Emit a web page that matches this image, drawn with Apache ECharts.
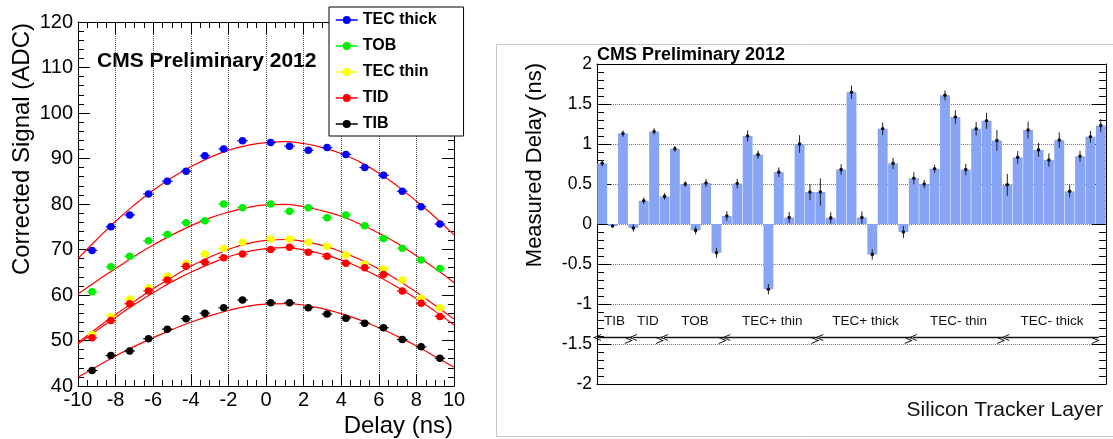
<!DOCTYPE html>
<html>
<head>
<meta charset="utf-8">
<title>CMS Preliminary 2012 - timing scan</title>
<script src="https://cdn.jsdelivr.net/npm/echarts@6/dist/echarts.min.js"></script>
<style>
html, body { margin: 0; padding: 0; background: #ffffff; }
#main { width: 1113px; height: 439px; }
</style>
</head>
<body>
<div id="main"></div>
<script>
// ---- left panel : corrected signal vs delay ----
var delayPts = [-9.25, -8.25, -7.25, -6.25, -5.25, -4.25, -3.25, -2.25, -1.25, 0.25, 1.25, 2.25, 3.25, 4.25, 5.25, 6.25, 7.25, 8.25, 9.25];
var tecThick = [69.8, 75.0, 77.6, 82.2, 85.0, 87.2, 90.6, 92.1, 93.9, 93.5, 92.7, 91.8, 92.4, 90.9, 88.0, 86.3, 82.8, 79.4, 75.6];
var tob      = [60.7, 66.2, 68.5, 71.9, 73.3, 75.9, 76.3, 80.0, 79.2, 80.0, 78.4, 79.2, 77.0, 77.6, 75.2, 72.4, 70.3, 67.7, 65.8];
var tecThin  = [51.3, 55.3, 59.1, 61.6, 64.1, 66.9, 69.0, 70.2, 71.6, 72.3, 72.3, 71.6, 70.7, 68.8, 66.8, 65.7, 63.3, 59.3, 57.2];
var tid      = [50.6, 54.4, 58.1, 60.9, 63.3, 66.3, 67.2, 68.2, 69.0, 70.0, 70.5, 69.4, 68.5, 67.0, 66.0, 64.5, 60.9, 58.2, 55.3];
var tib      = [43.4, 46.7, 47.7, 50.4, 52.5, 54.8, 56.0, 57.2, 58.9, 58.3, 58.3, 57.2, 55.8, 54.9, 53.8, 52.8, 50.2, 48.6, 46.1];
var delayErr = 0.28;

// fitted curves, every ns
var fitDelay    = [-10, -9, -8, -7, -6, -5, -4, -3, -2, -1, 0, 1, 2, 3, 4, 5, 6, 7, 8, 9, 10];
var tecThickFit = [68.0, 72.2, 76.2, 79.8, 83.0, 85.8, 88.2, 90.2, 91.8, 92.9, 93.5, 93.7, 93.3, 92.4, 91.1, 89.2, 86.8, 83.9, 80.6, 77.1, 73.2];
var tobFit      = [60.2, 63.1, 65.8, 68.5, 71.0, 73.2, 75.2, 76.9, 78.2, 79.2, 79.8, 79.9, 79.4, 78.5, 77.3, 75.6, 73.6, 71.3, 68.6, 65.8, 62.7];
var tecThinFit  = [49.5, 52.7, 55.7, 58.6, 61.4, 63.9, 66.3, 68.3, 70.0, 71.3, 72.0, 72.2, 71.8, 70.9, 69.5, 67.8, 65.7, 63.3, 60.6, 57.7, 54.7];
var tidFit      = [49.2, 52.2, 55.1, 57.9, 60.5, 62.9, 65.0, 66.8, 68.4, 69.5, 70.2, 70.4, 69.9, 69.0, 67.7, 66.0, 64.0, 61.7, 59.2, 56.4, 53.4];
var tibFit      = [41.9, 44.3, 46.6, 48.7, 50.6, 52.4, 54.0, 55.4, 56.6, 57.5, 58.0, 58.1, 57.8, 57.0, 55.9, 54.5, 52.8, 50.9, 48.8, 46.5, 44.1];

var seriesNames  = ['TEC thick', 'TOB', 'TEC thin', 'TID', 'TIB'];
var seriesColors = ['#0000ff', '#00ee00', '#ffff00', '#ff0000', '#000000'];

// ---- right panel : measured delay per layer ----
var groupNames = ['TIB', 'TID', 'TOB', 'TEC+ thin', 'TEC+ thick', 'TEC- thin', 'TEC- thick'];
var groupSizes = [4, 3, 6, 9, 9, 9, 9];
var groupArrowStart = [0, 3.45, 6.45, 12.45, 21.4, 30.4, 39.3];
var groupArrowEnd   = [3.35, 6.35, 12.4, 21.3, 30.3, 39.2, 48.3];
var arrowLevel = -1.42;

var layerDelay = [0.76, -0.025, 1.13, -0.05, 0.29, 1.157, 0.345, 0.94, 0.50, -0.08,
	0.513, -0.36, 0.10, 0.505, 1.10, 0.867, -0.815, 0.648, 0.08, 1.0,
	0.40, 0.40, 0.076, 0.68, 1.646, 0.08, -0.38, 1.19, 0.758, -0.10,
	0.572, 0.50, 0.69, 1.608, 1.338, 0.68, 1.19, 1.29, 1.044, 0.49,
	0.833, 1.174, 0.926, 0.80, 1.048, 0.408, 0.846, 1.09, 1.23];
var layerErr = [0.04, 0.02, 0.04, 0.045, 0.04, 0.04, 0.04, 0.035, 0.035, 0.05,
	0.05, 0.063, 0.06, 0.06, 0.07, 0.05, 0.065, 0.06, 0.07, 0.11,
	0.1, 0.17, 0.07, 0.067, 0.084, 0.078, 0.065, 0.08, 0.07, 0.075,
	0.075, 0.05, 0.05, 0.063, 0.084, 0.07, 0.084, 0.1, 0.13, 0.137,
	0.08, 0.105, 0.088, 0.084, 0.097, 0.076, 0.067, 0.074, 0.084];

var FONT = '"Liberation Sans", Arial, Helvetica, sans-serif';

var layerNames = [];
for(var g = 0; g < groupNames.length; g++) {
	for(var k = 1; k <= groupSizes[g]; k++) {
		layerNames.push(groupNames[g] + ' ' + k);
	}
}

function zip(xs, ys) {
	var out = [];
	for(var i = 0; i < xs.length; i++) out.push([xs[i], ys[i]]);
	return out;
}

var pointSets = [tecThick, tob, tecThin, tid, tib];
var fitSets = [tecThickFit, tobFit, tecThinFit, tidFit, tibFit];

var series = [];
// fits first so the markers sit on top
for(var i = 0; i < fitSets.length; i++) {
	series.push({
		name: seriesNames[i] + ' fit',
		type: 'line',
		xAxisIndex: 0,
		yAxisIndex: 0,
		smooth: true,
		showSymbol: false,
		silent: true,
		z: 2,
		lineStyle: { color: '#ff0000', width: 1.2 },
		data: zip(fitDelay, fitSets[i])
	});
}
// small horizontal error bars under the markers
var hErrData = [];
for(var i = 0; i < pointSets.length; i++) {
	for(var j = 0; j < delayPts.length; j++) {
		hErrData.push([delayPts[j], pointSets[i][j], i]);
	}
}
series.push({
	name: 'delay err',
	type: 'custom',
	xAxisIndex: 0,
	yAxisIndex: 0,
	z: 3,
	silent: true,
	renderItem: function(params, api) {
		var a = api.coord([api.value(0) - delayErr, api.value(1)]);
		var b = api.coord([api.value(0) + delayErr, api.value(1)]);
		return {
			type: 'line',
			shape: { x1: a[0], y1: a[1], x2: b[0], y2: b[1] },
			style: { stroke: seriesColors[api.value(2)], lineWidth: 1.2 }
		};
	},
	data: hErrData
});
for(var i = 0; i < pointSets.length; i++) {
	series.push({
		name: seriesNames[i],
		type: 'line',
		xAxisIndex: 0,
		yAxisIndex: 0,
		symbol: 'circle',
		symbolSize: 7.5,
		showSymbol: true,
		z: 4,
		itemStyle: { color: seriesColors[i] },
		lineStyle: { color: seriesColors[i], width: 0 },
		data: zip(delayPts, pointSets[i])
	});
}

// bars
series.push({
	name: 'Measured Delay',
	type: 'bar',
	xAxisIndex: 2,
	yAxisIndex: 2,
	barCategoryGap: '5%',
	itemStyle: { color: '#87a4f5' },
	data: layerDelay
});

// error bars on the bars
var errData = [];
for(var i = 0; i < layerDelay.length; i++) {
	errData.push([i, layerDelay[i], layerErr[i]]);
}
series.push({
	name: 'err',
	type: 'custom',
	xAxisIndex: 2,
	yAxisIndex: 2,
	z: 5,
	silent: true,
	renderItem: function(params, api) {
		var x = api.value(0);
		var v = api.value(1);
		var e = api.value(2);
		var mid = api.coord([x, v]);
		var hi = api.coord([x, v + e]);
		var lo = api.coord([x, v - e]);
		return {
			type: 'group',
			children: [{
				type: 'line',
				shape: { x1: mid[0], y1: hi[1], x2: mid[0], y2: lo[1] },
				style: { stroke: '#222', lineWidth: 1 }
			}, {
				type: 'circle',
				shape: { cx: mid[0], cy: mid[1], r: 1.8 },
				style: { fill: '#111' }
			}]
		};
	},
	data: errData
});

// detector group arrows
var chevron = 'path://M0,10L5,0L10,10L8.6,10L5,2.8L1.4,10Z';
var arrowData = [];
for(var i = 0; i < groupNames.length; i++) {
	arrowData.push([
		{ name: groupNames[i], coord: [groupArrowStart[i], arrowLevel] },
		{ coord: [groupArrowEnd[i], arrowLevel] }
	]);
}
series.push({
	name: 'groups',
	type: 'line',
	xAxisIndex: 4,
	yAxisIndex: 2,
	data: [],
	silent: true,
	markLine: {
		silent: true,
		animation: false,
		symbol: [chevron, chevron],
		symbolSize: [7, 8],
		symbolOffset: [0, 3],
		lineStyle: { color: '#111', width: 1.3, type: 'solid' },
		label: {
			show: true,
			position: 'middle',
			distance: 9,
			formatter: '{b}',
			fontFamily: FONT,
			fontSize: 13.5,
			color: '#111'
		},
		data: arrowData
	}
});

var tickStyle = { color: '#000', width: 1 };

var option = {
	animation: false,
	backgroundColor: '#ffffff',
	textStyle: { fontFamily: FONT },
	grid: [
		{ left: 78, top: 22, width: 376, height: 364 },
		{ left: 597, top: 64, width: 509, height: 320 }
	],
	legend: {
		data: seriesNames,
		orient: 'vertical',
		left: 329,
		top: 7,
		padding: [5, 27, 4, 6],
		itemGap: 10,
		itemWidth: 22,
		itemHeight: 10,
		backgroundColor: '#ffffff',
		borderColor: '#000',
		borderWidth: 1,
		lineStyle: { width: 1.5 },
		textStyle: { fontFamily: FONT, fontWeight: 'bold', fontSize: 16, color: '#000', lineHeight: 16 }
	},
	xAxis: [{
		gridIndex: 0,
		type: 'value',
		position: 'bottom',
		min: -10,
		max: 10,
		interval: 2,
		axisLine: { onZero: false, lineStyle: tickStyle },
		axisTick: { inside: true, length: 12, lineStyle: tickStyle },
		minorTick: { show: true, splitNumber: 4, length: 6, lineStyle: tickStyle },
		axisLabel: { fontSize: 20, color: '#000', margin: 4, fontFamily: FONT },
		splitLine: { show: true, lineStyle: { color: '#555', type: 'dotted', width: 1 } }
	}, {
		gridIndex: 0,
		type: 'value',
		position: 'top',
		min: -10,
		max: 10,
		interval: 2,
		axisLine: { onZero: false, lineStyle: tickStyle },
		axisTick: { inside: true, length: 12, lineStyle: tickStyle },
		minorTick: { show: true, splitNumber: 4, length: 6, lineStyle: tickStyle },
		axisLabel: { show: false },
		splitLine: { show: false }
	}, {
		gridIndex: 1,
		type: 'category',
		position: 'bottom',
		data: layerNames,
		axisLine: { onZero: false, lineStyle: tickStyle },
		axisTick: { inside: true, length: 5, interval: 0, lineStyle: tickStyle },
		axisLabel: { show: false },
		splitLine: { show: false }
	}, {
		gridIndex: 1,
		type: 'category',
		position: 'top',
		data: layerNames,
		axisLine: { onZero: false, lineStyle: tickStyle },
		axisTick: { inside: true, length: 7, interval: 0, lineStyle: tickStyle },
		axisLabel: { show: false },
		splitLine: { show: false }
	}, {
		gridIndex: 1,
		type: 'value',
		min: 0,
		max: 49,
		show: false
	}],
	yAxis: [{
		gridIndex: 0,
		type: 'value',
		position: 'left',
		min: 40,
		max: 120,
		interval: 10,
		axisLine: { show: true, onZero: false, lineStyle: tickStyle },
		axisTick: { show: true, inside: true, length: 12, lineStyle: tickStyle },
		minorTick: { show: true, splitNumber: 5, length: 6, lineStyle: tickStyle },
		axisLabel: { fontSize: 20, color: '#000', margin: 5, fontFamily: FONT },
		splitLine: { show: false }
	}, {
		gridIndex: 0,
		type: 'value',
		position: 'right',
		min: 40,
		max: 120,
		interval: 10,
		axisLine: { show: true, onZero: false, lineStyle: tickStyle },
		axisTick: { show: true, inside: true, length: 12, lineStyle: tickStyle },
		minorTick: { show: true, splitNumber: 5, length: 6, lineStyle: tickStyle },
		axisLabel: { show: false },
		splitLine: { show: false }
	}, {
		gridIndex: 1,
		type: 'value',
		position: 'left',
		min: -2,
		max: 2,
		interval: 0.5,
		axisLine: { show: true, onZero: false, lineStyle: tickStyle },
		axisTick: { show: true, inside: true, length: 14, lineStyle: tickStyle },
		minorTick: { show: true, splitNumber: 5, length: 7, lineStyle: tickStyle },
		axisLabel: { fontSize: 17.5, color: '#000', margin: 5, fontFamily: FONT },
		splitLine: { show: true, lineStyle: { color: '#777', type: 'dotted', width: 1 } }
	}, {
		gridIndex: 1,
		type: 'value',
		position: 'right',
		min: -2,
		max: 2,
		interval: 0.5,
		axisLine: { show: true, onZero: false, lineStyle: tickStyle },
		axisTick: { show: true, inside: true, length: 14, lineStyle: tickStyle },
		minorTick: { show: true, splitNumber: 5, length: 7, lineStyle: tickStyle },
		axisLabel: { show: false },
		splitLine: { show: false }
	}],
	graphic: [{
		type: 'rect',
		shape: { x: 496.5, y: 44.5, width: 640, height: 392 },
		style: { fill: 'none', stroke: '#c8c8c8', lineWidth: 1 },
		z: -1,
		silent: true
	}, {
		type: 'text',
		x: 97,
		y: 61,
		style: { text: 'CMS Preliminary 2012', font: 'bold 21px ' + FONT, fill: '#000', textVerticalAlign: 'middle' }
	}, {
		type: 'text',
		x: 597,
		y: 55,
		style: { text: 'CMS Preliminary 2012', font: 'bold 18px ' + FONT, fill: '#000', textVerticalAlign: 'middle' }
	}, {
		type: 'text',
		x: 22,
		y: 23,
		rotation: Math.PI / 2,
		style: { text: 'Corrected Signal (ADC)', font: '24px ' + FONT, fill: '#000', textAlign: 'right', textVerticalAlign: 'middle' }
	}, {
		type: 'text',
		x: 453,
		y: 426,
		style: { text: 'Delay (ns)', font: '24px ' + FONT, fill: '#000', textAlign: 'right', textVerticalAlign: 'middle' }
	}, {
		type: 'text',
		x: 535,
		y: 63,
		rotation: Math.PI / 2,
		style: { text: 'Measured Delay (ns)', font: '22px ' + FONT, fill: '#000', textAlign: 'right', textVerticalAlign: 'middle' }
	}, {
		type: 'text',
		x: 1103,
		y: 410,
		style: { text: 'Silicon Tracker Layer', font: '21px ' + FONT, fill: '#111', textAlign: 'right', textVerticalAlign: 'middle' }
	}],
	series: series
};

var chart = echarts.init(document.getElementById('main'));
chart.setOption(option);
</script>
</body>
</html>
